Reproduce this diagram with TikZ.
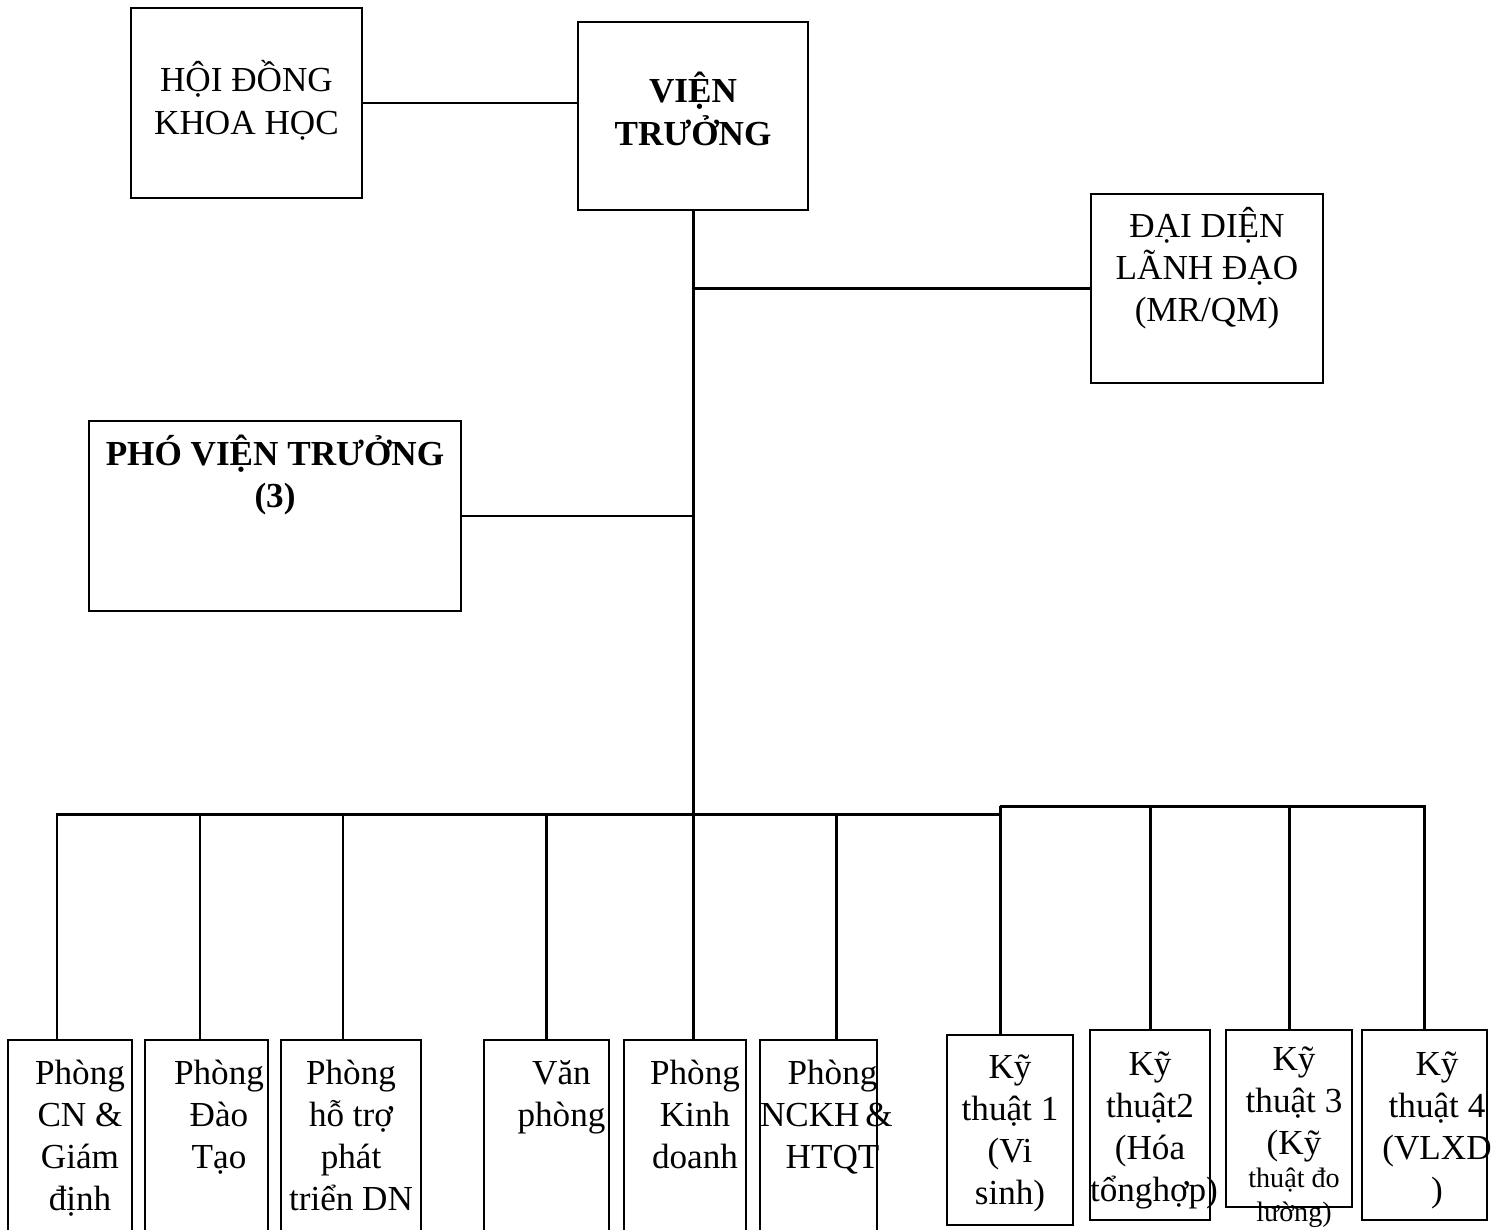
\documentclass[tikz,border=0pt]{standalone}
\usepackage{fontspec}
\setmainfont{Liberation Serif}
\usepackage{tikz}
\usetikzlibrary{positioning}

\begin{document}
\begin{tikzpicture}[
    tshift/.initial=0pt,
    box/.style={draw=black, line width=1.1pt, inner sep=0pt, outer sep=0pt},
    unit/.style n args={3}{box,
                execute at begin node={\begin{minipage}[c][#2][t]{#1}\centering
                  \leftskip=\pgfkeysvalueof{/tikz/tshift} plus 1fil
                  \rightskip=-\pgfkeysvalueof{/tikz/tshift} plus 1fil
                  \fontsize{20}{24}\selectfont\hyphenpenalty=10000 \rule{0pt}{#3}},
                execute at end node={\end{minipage}}},
    link/.style={line width=1.7pt, draw=black}]

  \useasboundingbox (0,0) rectangle (29.94,-24.6);

  % top level
  \node[unit={4.62cm}{3.80cm}{1.68cm}] (hdkh) at (4.93,-2.06)  {HỘI ĐỒNG\\KHOA HỌC};
  \node[unit={4.60cm}{3.76cm}{1.62cm}] (vt)   at (13.86,-2.32) {\bfseries VIỆN\\TRƯỞNG};
  \node[unit={4.64cm}{3.78cm}{0.86cm}] (ddld) at (24.14,-5.77) {ĐẠI DIỆN\\LÃNH ĐẠO\\(MR/QM)};
  \node[unit={7.44cm}{3.80cm}{0.88cm}] (pvt)  at (5.50,-10.32) {\bfseries PHÓ VIỆN TRƯỞNG\\(3)};

  % phong ban
  \node[unit={2.48cm}{3.88cm}{0.88cm}, tshift=0.2cm]  (pcn) at (1.40,-22.74)  {Phòng\\CN~\&\\Giám\\định};
  \node[unit={2.46cm}{3.88cm}{0.88cm}, tshift=0.25cm] (pdt) at (4.13,-22.74)  {Phòng\\Đào\\Tạo};
  \node[unit={2.80cm}{3.88cm}{0.88cm}]                (pht) at (7.02,-22.74)  {Phòng\\hỗ~trợ\\phát\\triển~DN};
  \node[unit={2.50cm}{3.88cm}{0.88cm}, tshift=0.3cm]  (vp)  at (10.93,-22.74) {Văn\\phòng};
  \node[unit={2.44cm}{3.88cm}{0.88cm}, tshift=0.2cm]  (pkd) at (13.70,-22.74) {Phòng\\Kinh\\doanh};
  \node[unit={2.34cm}{3.88cm}{0.88cm}, tshift=0.28cm] (pnc) at (16.37,-22.74) {Phòng\\\hspace*{-0.28cm}NCKH~\&\\HTQT};

  % phong ky thuat
  \node[unit={2.52cm}{3.80cm}{0.86cm}] (kt1) at (20.20,-22.60) {Kỹ\\thuật~1\\(Vi\\sinh)};
  \node[unit={2.40cm}{3.80cm}{0.90cm}] (kt2) at (23.00,-22.50) {Kỹ\\thuật2\\(Hóa\\tổnghợp)};
  \node[unit={2.52cm}{3.54cm}{0.80cm}, tshift=0.1cm] (kt3) at (25.78,-22.37) {Kỹ\\thuật~3\\(Kỹ\\{\fontsize{16}{19}\selectfont thuật~đo\\lường)\par}};
  \node[unit={2.50cm}{3.80cm}{0.90cm}, tshift=0.25cm] (kt4) at (28.49,-22.50) {Kỹ\\thuật~4\\(VLXD\\)};

  \coordinate (bus)  at (13.86,-16.28);
  \coordinate (busk) at (20.00,-16.12);

  \draw[link] (hdkh.east) -- (hdkh.east -| vt.west);
  \draw[link] (vt.south) -- (bus);
  \draw[link] (vt.south |- ddld.west) -- (ddld.west);
  \draw[link] (pvt.east) -- (pvt.east -| vt.south);

  \draw[link] ([xshift=-0.26cm]pcn.north) |- (bus);
  \draw[link] ([xshift=-0.13cm]pdt.north) |- (bus);
  \draw[link] ([xshift=-0.16cm]pht.north) |- (bus);
  \draw[link] (vp.north) |- (bus);
  \draw[link] (pkd.north -| bus) -- (bus);
  \draw[link] ([xshift=0.35cm]pnc.north) |- (bus);
  \draw[link] (bus) -| (busk);

  \draw[link] ([xshift=-0.20cm]kt1.north) |- (busk);
  \draw[link] (kt2.north) |- (busk);
  \draw[link] (kt3.north) |- (busk);
  \draw[link] (kt4.north) |- (busk);
\end{tikzpicture}
\end{document}
